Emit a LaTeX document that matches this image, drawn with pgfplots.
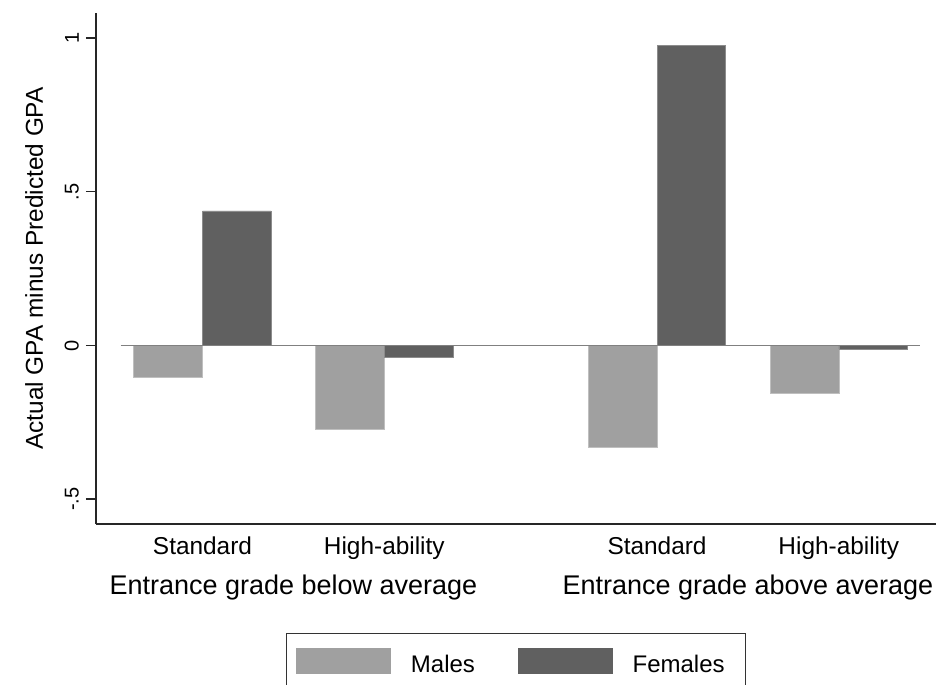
\documentclass[border=0pt]{standalone}
\usepackage{fontspec}
\setmainfont{Liberation Sans}
\usepackage{pgfplots}
\pgfplotsset{compat=1.18}
\definecolor{males}{HTML}{A0A0A0}
\definecolor{females}{HTML}{606060}
\begin{document}
\begin{tikzpicture}
\begin{axis}[
	at={(0,0)}, anchor=south west,
	scale only axis, width=420pt, height=255.5pt,
	xmin=-1.1716, xmax=8.069, ymin=-0.5805, ymax=1.0813,
	axis x line*=bottom, axis y line*=left,
	axis line style={black!85, line width=0.75pt},
	tick align=outside, major tick length=5pt,
	xtick={0,2,5,7},
	xticklabels={Standard,High-ability,Standard,High-ability},
	xtick style={draw=none},
	x tick label style={font=\fontsize{12.2}{14}\selectfont, anchor=base, yshift=-10pt},
	ytick={-0.5,0,0.5,1},
	yticklabels={-.5,0,.5,1},
	ytick style={black!85, line width=0.75pt},
	y tick label style={font=\fontsize{10}{12}\selectfont, rotate=90, anchor=south},
	ylabel={Actual GPA minus Predicted GPA},
	ylabel style={font=\fontsize{12.2}{14}\selectfont, at={(axis description cs:-0.0631,0.5)}, anchor=base},
	clip=false,
	legend columns=2,
	legend style={at={(axis description cs:0.5,0)}, anchor=north, yshift=-54.35pt,
		draw=black!80, line width=0.5pt, inner xsep=5pt, inner ysep=7.5pt,
		font=\fontsize{12}{14}\selectfont, nodes={inner sep=0pt},
		/tikz/every odd column/.append style={column sep=10pt},
		/tikz/every even column/.append style={column sep=21.5pt}},
	]
	%
	\addplot[ybar, bar width=0.756, bar shift=-0.378, fill=males, draw=black!25, line width=0.3pt,
		legend image code/.code={\fill[males] (0pt,0pt) rectangle (47pt,12.5pt);}]
		coordinates {(0,-0.105) (2,-0.273) (5,-0.330) (7,-0.157)};
	\addlegendentry{\smash{Males}}
	%
	\addplot[ybar, bar width=0.756, bar shift=0.378, fill=females, draw=black!45, line width=0.3pt,
		legend image code/.code={\fill[females] (0pt,0pt) rectangle (47pt,12.5pt);}]
		coordinates {(0,0.438) (2,-0.037) (5,0.976) (7,-0.011)};
	\addlegendentry{\smash{Females}\hspace*{5.5pt}}
	%
	% zero line
	\addplot[forget plot, draw=black!50, line width=0.85pt, mark=none]
		coordinates {(-0.9,0) (7.89,0)};
	%
	\node[font=\fontsize{13.5}{16}\selectfont, anchor=base, yshift=-35pt]
		at (axis cs:1,-0.5805) {Entrance grade below average};
	\node[font=\fontsize{13.5}{16}\selectfont, anchor=base, yshift=-35pt]
		at (axis cs:6,-0.5805) {Entrance grade above average};
\end{axis}
\pgfresetboundingbox
\path[use as bounding box] (-48pt,-80.5pt) rectangle (420.5pt,262pt);
\end{tikzpicture}
\end{document}
